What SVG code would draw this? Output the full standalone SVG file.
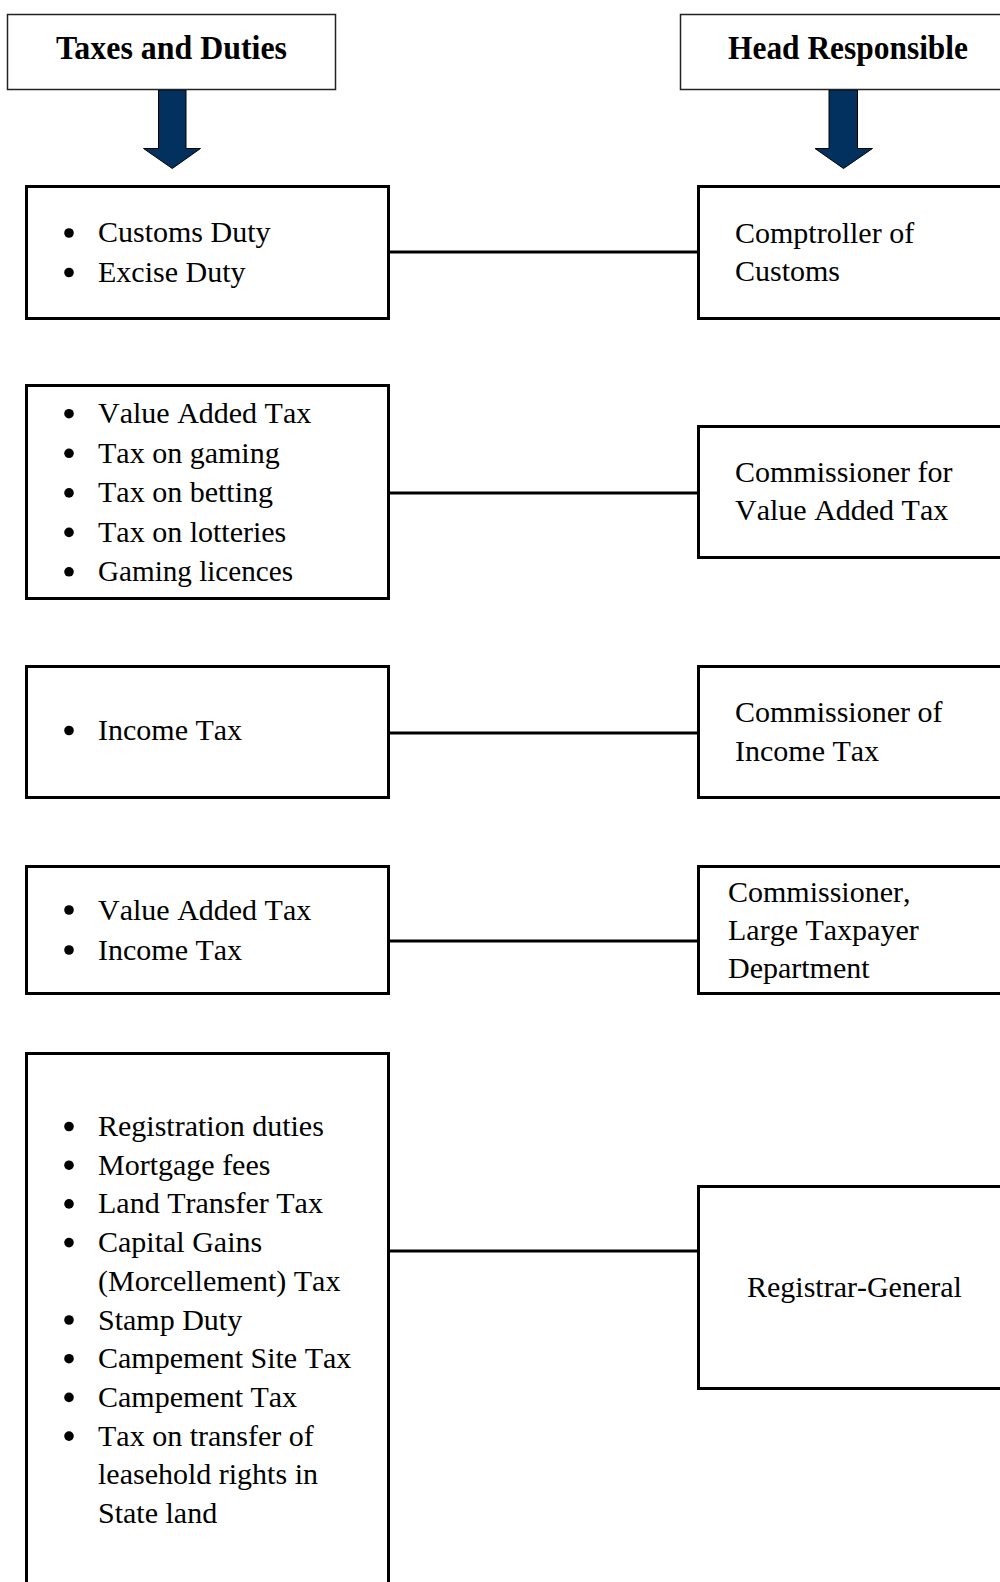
<svg xmlns="http://www.w3.org/2000/svg" width="1000" height="1582" viewBox="0 0 1000 1582">
<style>
.hdr{fill:#fff;stroke:#222;stroke-width:1.5}
.box{fill:#fff;stroke:#000;stroke-width:3}
.ttl{font-family:"Liberation Serif","Times New Roman",serif;font-weight:bold;font-size:34.5px;fill:#000}
.t{font-family:"Liberation Serif","Times New Roman",serif;font-size:30px;fill:#000;font-kerning:none}
.arr{fill:#03315f;stroke:#000;stroke-width:1}
.con{stroke:#000;stroke-width:3;fill:none}
</style>
<defs>
<circle id="b" r="4.8" fill="#000"/>
</defs>
<g id="connectors">
<line class="con" x1="389" y1="252" x2="698" y2="252"/>
<line class="con" x1="389" y1="493" x2="698" y2="493"/>
<line class="con" x1="389" y1="733" x2="698" y2="733"/>
<line class="con" x1="389" y1="941" x2="698" y2="941"/>
<line class="con" x1="389" y1="1251" x2="698" y2="1251"/>
<polygon class="arr" points="158.5,90 186,90 186,148.5 200.5,148.5 172.3,168.5 143.5,148.5 158.5,148.5"/>
<polygon class="arr" points="829,90 857.5,90 857.5,148.5 872.5,148.5 843.5,168.5 815,148.5 829,148.5"/>
</g>
<g id="header-taxes">
<rect class="hdr" x="7.5" y="14.5" width="328" height="75"/>
<text class="ttl" x="56" y="59" textLength="231" lengthAdjust="spacingAndGlyphs">Taxes and Duties</text>
</g>
<g id="header-head">
<rect class="hdr" x="680.5" y="14.5" width="330" height="75"/>
<text class="ttl" x="728" y="59" textLength="240" lengthAdjust="spacingAndGlyphs">Head Responsible</text>
</g>
<g id="taxes-1">
<rect class="box" x="26.5" y="186.5" width="362" height="132"/>
<use href="#b" x="69" y="233"/><text class="t" x="98" y="242">Customs Duty</text>
<use href="#b" x="69" y="272.5"/><text class="t" x="98" y="282">Excise Duty</text>
</g>
<g id="head-1">
<rect class="box" x="698.5" y="186.5" width="320" height="132"/>
<text class="t" x="735" y="243">Comptroller of</text>
<text class="t" x="735" y="281">Customs</text>
</g>
<g id="taxes-2">
<rect class="box" x="26.5" y="385.5" width="362" height="213"/>
<use href="#b" x="69" y="413.7"/><text class="t" x="98" y="423.2">Value Added Tax</text>
<use href="#b" x="69" y="453.3"/><text class="t" x="98" y="462.8">Tax on gaming</text>
<use href="#b" x="69" y="492.9"/><text class="t" x="98" y="502.4">Tax on betting</text>
<use href="#b" x="69" y="532.4"/><text class="t" x="98" y="541.9">Tax on lotteries</text>
<use href="#b" x="69" y="571.8"/><text class="t" x="98" y="581.3" textLength="195" lengthAdjust="spacingAndGlyphs">Gaming licences</text>
</g>
<g id="head-2">
<rect class="box" x="698.5" y="426.5" width="320" height="131"/>
<text class="t" x="735" y="481.5">Commissioner for</text>
<text class="t" x="735" y="519.5">Value Added Tax</text>
</g>
<g id="taxes-3">
<rect class="box" x="26.5" y="666.5" width="362" height="131"/>
<use href="#b" x="69" y="730.5"/><text class="t" x="98" y="740">Income Tax</text>
</g>
<g id="head-3">
<rect class="box" x="698.5" y="666.5" width="320" height="131"/>
<text class="t" x="735" y="721.5">Commissioner of</text>
<text class="t" x="735" y="760.5">Income Tax</text>
</g>
<g id="taxes-4">
<rect class="box" x="26.5" y="866.5" width="362" height="127"/>
<use href="#b" x="69" y="910"/><text class="t" x="98" y="919.5">Value Added Tax</text>
<use href="#b" x="69" y="950"/><text class="t" x="98" y="959.5">Income Tax</text>
</g>
<g id="head-4">
<rect class="box" x="698.5" y="866.5" width="320" height="127"/>
<text class="t" x="728" y="902">Commissioner,</text>
<text class="t" x="728" y="940">Large Taxpayer</text>
<text class="t" x="728" y="978">Department</text>
</g>
<g id="taxes-5">
<rect class="box" x="26.5" y="1053.5" width="362" height="560"/>
<use href="#b" x="69" y="1126.5"/><text class="t" x="98" y="1136">Registration duties</text>
<use href="#b" x="69" y="1165.2"/><text class="t" x="98" y="1174.7">Mortgage fees</text>
<use href="#b" x="69" y="1203.9"/><text class="t" x="98" y="1213.4">Land Transfer Tax</text>
<use href="#b" x="69" y="1242.6"/><text class="t" x="98" y="1252.1">Capital Gains</text>
<text class="t" x="98" y="1290.8">(Morcellement) Tax</text>
<use href="#b" x="69" y="1320"/><text class="t" x="98" y="1329.5">Stamp Duty</text>
<use href="#b" x="69" y="1358.7"/><text class="t" x="98" y="1368.2">Campement Site Tax</text>
<use href="#b" x="69" y="1397.4"/><text class="t" x="98" y="1406.9">Campement Tax</text>
<use href="#b" x="69" y="1436.1"/><text class="t" x="98" y="1445.6">Tax on transfer of</text>
<text class="t" x="98" y="1484.3">leasehold rights in</text>
<text class="t" x="98" y="1523">State land</text>
</g>
<g id="head-5">
<rect class="box" x="698.5" y="1186.5" width="320" height="202"/>
<text class="t" x="747" y="1297">Registrar-General</text>
</g>
</svg>
